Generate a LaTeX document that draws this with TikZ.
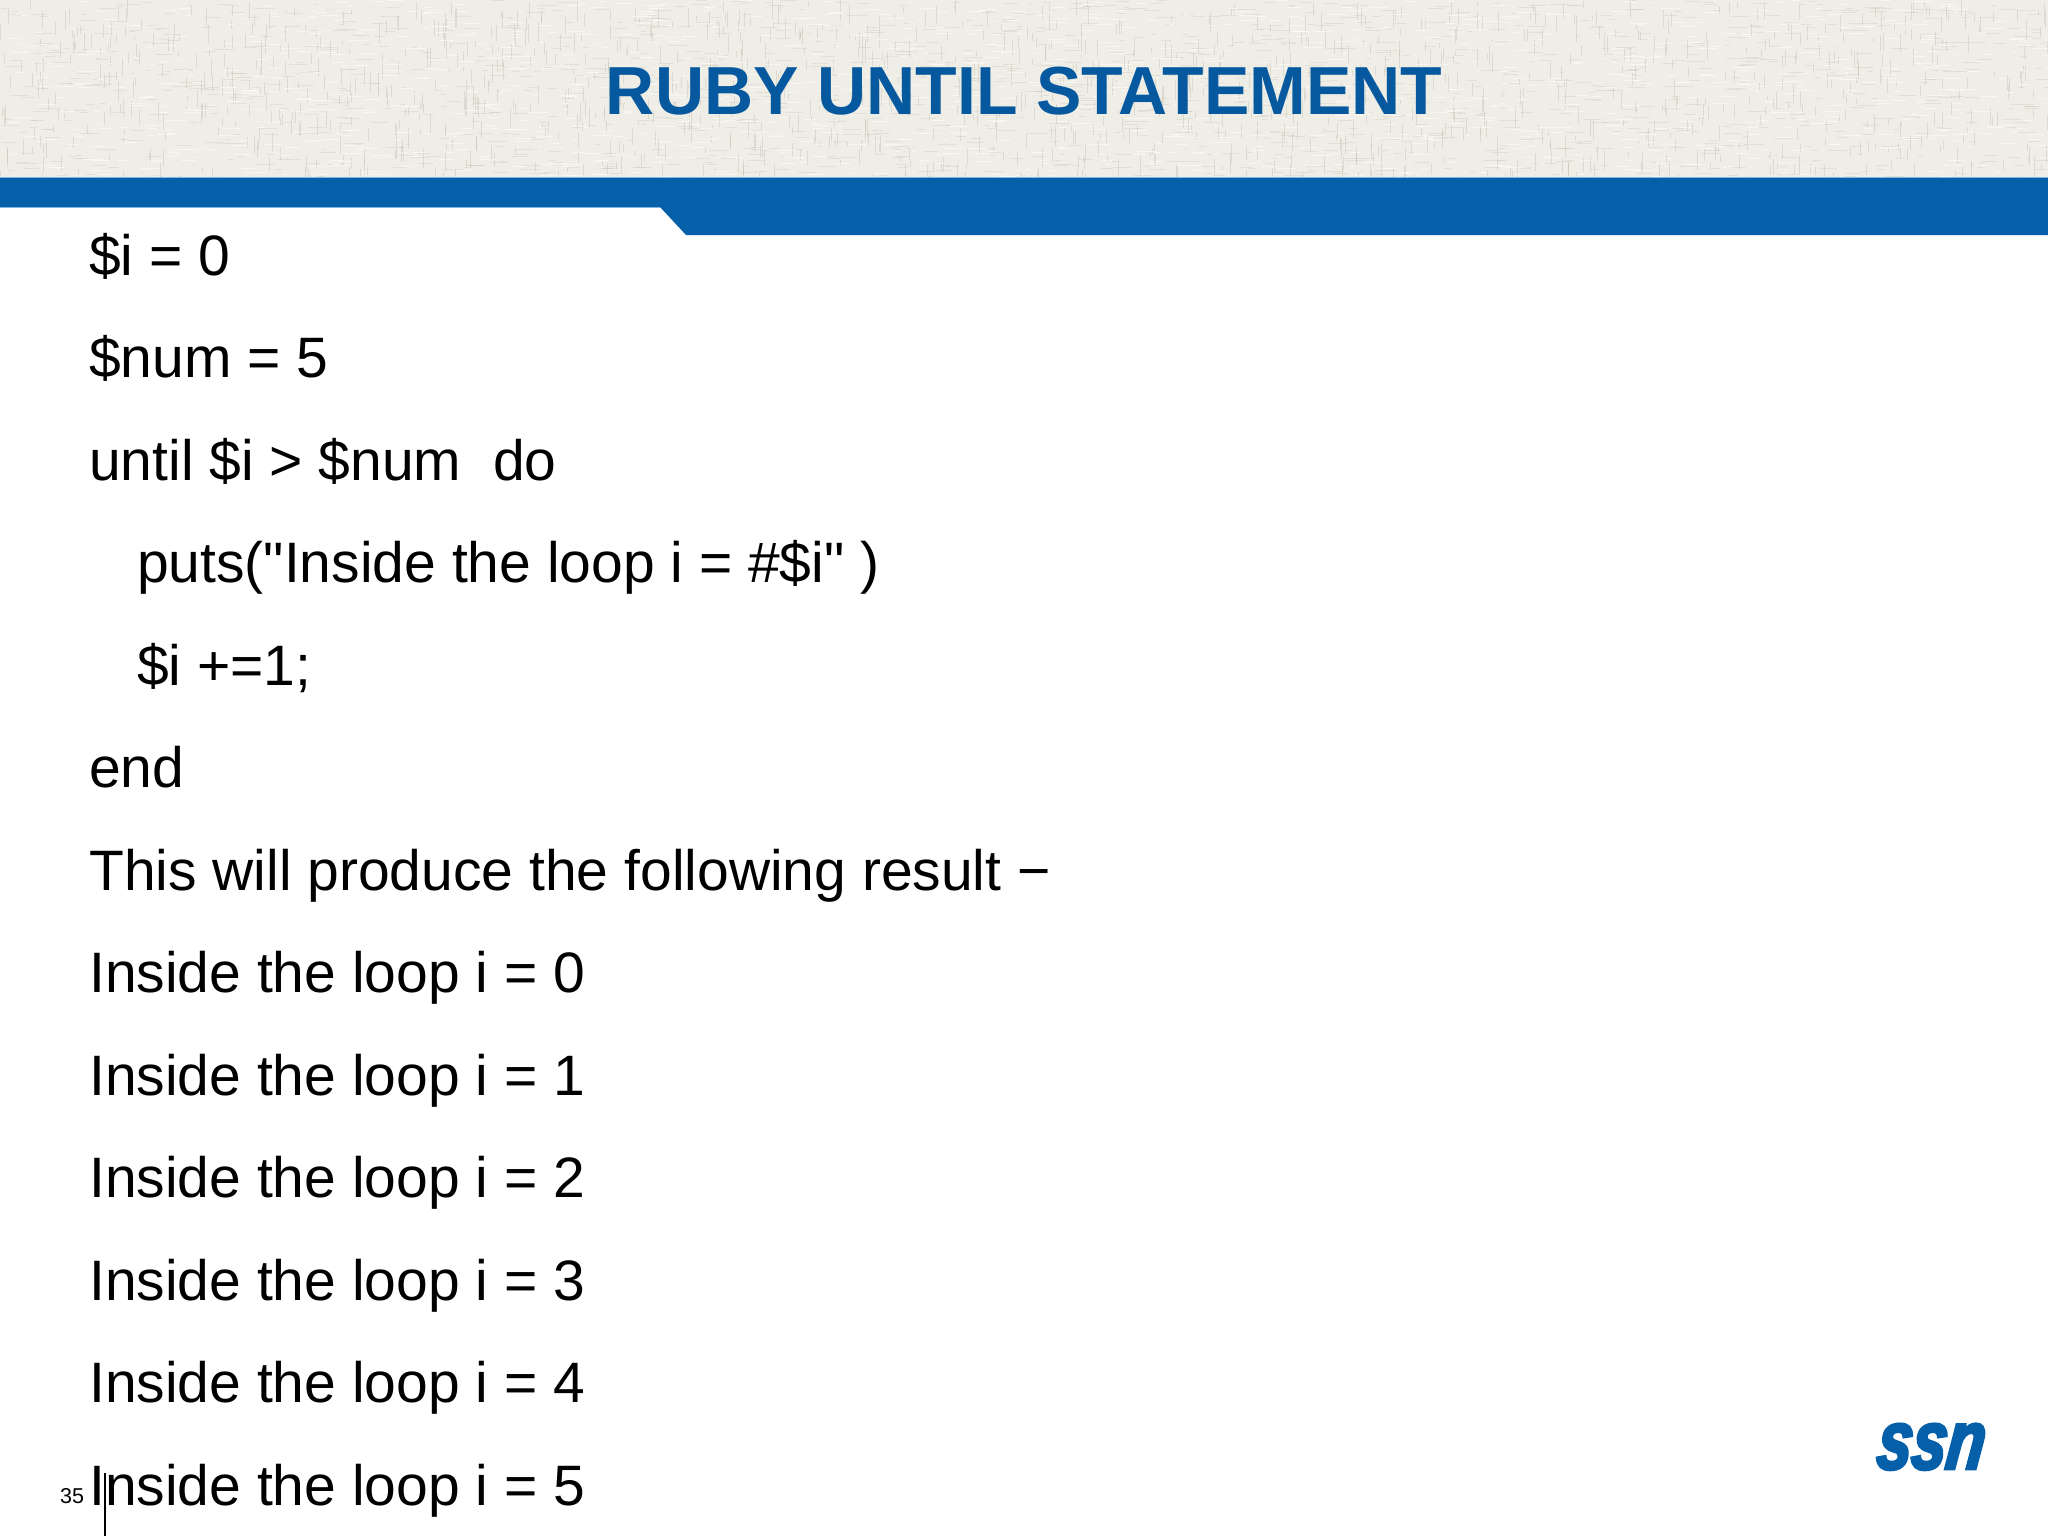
\documentclass[tikz,border=0pt]{standalone}
\usepackage{fontspec}
\setmainfont{Liberation Sans}
\newfontfamily\codefont{Liberation Sans}
\newfontfamily\logofont[FakeBold=3.5,FakeStretch=.74,FakeSlant=.12]{Liberation Sans Bold Italic}
\definecolor{band}{HTML}{0560A9}
\definecolor{bandedge}{HTML}{7FB6E2}
\definecolor{titleblue}{HTML}{07599F}
\definecolor{linen}{HTML}{EEEDE6}
\definecolor{threaddark}{HTML}{B5B1A0}
\definecolor{threadlight}{HTML}{FBFBF8}
\tikzset{
  codeline/.style={anchor=base west,inner sep=0pt,font=\fontsize{57}{60}\selectfont\codefont,text=black},
  titletext/.style={anchor=base,inner sep=0pt,font=\fontsize{68}{72}\selectfont\bfseries,text=titleblue},
  pagenum/.style={anchor=base west,inner sep=0pt,font=\fontsize{21.5}{24}\selectfont,text=black},
  logotext/.style={anchor=base west,inner sep=0pt,font=\fontsize{84}{86}\selectfont\logofont,text=band}
}
\begin{document}
\begin{tikzpicture}[x=1pt,y=-1pt]
\useasboundingbox (0,0) rectangle (2048,1536);
\fill[white] (0,0) rectangle (2048,1536);
% linen header
\fill[linen] (0,0) rectangle (2048,177);
\pgfmathsetseed{7}
\begin{scope}
\clip (0,0) rectangle (2048,177);
\foreach \k in {1,...,1300}{
  \pgfmathsetmacro{\xa}{rnd*2048}
  \pgfmathsetmacro{\ya}{rnd*177}
  \pgfmathsetmacro{\len}{4+rnd*16}
  \draw[threaddark,line width=.7pt,opacity=.3] (\xa,\ya) -- ++(0,\len);
  \pgfmathsetmacro{\xc}{rnd*2048}
  \pgfmathsetmacro{\yc}{rnd*177}
  \draw[threaddark,line width=.7pt,opacity=.22] (\xc,\yc) -- ++(\len,0);
  \pgfmathsetmacro{\xb}{rnd*2048}
  \pgfmathsetmacro{\yb}{rnd*177}
  \draw[threadlight,line width=.9pt,opacity=.7] (\xb,\yb) -- ++(\len,0);
}
\end{scope}
% blue band
\fill[band] (0,177) -- (2048,177) -- (2048,235) -- (686,235) -- (660,207) -- (0,207) -- cycle;
\draw[bandedge,line width=1pt] (0,177) -- (2048,177);
\draw[bandedge,line width=1pt] (0,207) -- (660,207);
% title
\node[titletext] (title) at (1024,115) {RUBY UNTIL STATEMENT};
% code
\node[codeline] (l1) at (89,275) {\$i = 0};
\node[codeline] (l2) at (89,377.5) {\$num = 5};
\node[codeline] (l3) at (89,480) {until \$i > \$num\ \ do};
\node[codeline] (l4) at (137,582.5) {puts("Inside the loop i = \#\$i" )};
\node[codeline] (l5) at (137,685) {\$i +=1;};
\node[codeline] (l6) at (89,787.5) {end};
\node[codeline] (l7) at (89,890) {This will produce the following result −};
\node[codeline] (l8) at (89,992.5) {Inside the loop i = 0};
\node[codeline] (l9) at (89,1095) {Inside the loop i = 1};
\node[codeline] (l10) at (89,1197.5) {Inside the loop i = 2};
\node[codeline] (l11) at (89,1300) {Inside the loop i = 3};
\node[codeline] (l12) at (89,1402.5) {Inside the loop i = 4};
\node[codeline] (l13) at (89,1505) {Inside the loop i = 5};
% footer
\node[pagenum] (page) at (60,1503) {35};
\coordinate (rulea) at (105,1473);
\coordinate (ruleb) at (105,1536);
\draw[black,line width=1.3pt] (rulea) -- (ruleb);
% logo
\node[logotext] (logo) at (1875,1469) {ssn};
\end{tikzpicture}
\end{document}
